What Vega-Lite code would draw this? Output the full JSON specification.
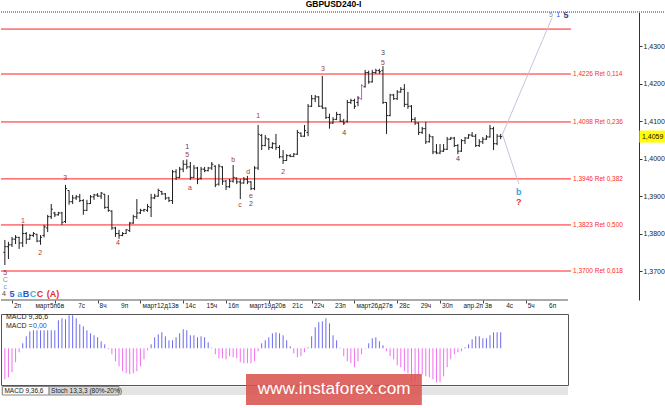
{
"$schema": "https://vega.github.io/schema/vega-lite/v6.json",
"padding": 0,
"background": "#ffffff",
"title": {"text": "GBPUSD240-I", "font": "Liberation Sans", "fontSize": 8.5, "fontWeight": "bold", "color": "#000000", "anchor": "middle", "offset": 4, "dy": 2},
"bounds": "flush",
"spacing": 14,
"config": {"view": {"stroke": null}, "text": {"font": "Liberation Sans"}},
"datasets": {
"bars": [
{"i":0,"o":1.3750,"h":1.3783,"l":1.3716,"c":1.3765},
{"i":1,"o":1.3765,"h":1.3778,"l":1.3732,"c":1.3770},
{"i":2,"o":1.3770,"h":1.3791,"l":1.3764,"c":1.3785},
{"i":3,"o":1.3785,"h":1.3796,"l":1.3772,"c":1.3790},
{"i":4,"o":1.3790,"h":1.3791,"l":1.3759,"c":1.3775},
{"i":5,"o":1.3775,"h":1.3825,"l":1.3764,"c":1.3800},
{"i":6,"o":1.3800,"h":1.3804,"l":1.3772,"c":1.3785},
{"i":7,"o":1.3785,"h":1.3799,"l":1.3783,"c":1.3795},
{"i":8,"o":1.3795,"h":1.3804,"l":1.3791,"c":1.3800},
{"i":9,"o":1.3798,"h":1.3799,"l":1.3777,"c":1.3780},
{"i":10,"o":1.3780,"h":1.3796,"l":1.3770,"c":1.3790},
{"i":11,"o":1.3795,"h":1.3823,"l":1.3790,"c":1.3818},
{"i":12,"o":1.3815,"h":1.3850,"l":1.3804,"c":1.3845},
{"i":13,"o":1.3845,"h":1.3879,"l":1.3839,"c":1.3865},
{"i":14,"o":1.3855,"h":1.3858,"l":1.3844,"c":1.3850},
{"i":15,"o":1.3850,"h":1.3858,"l":1.3848,"c":1.3855},
{"i":16,"o":1.3855,"h":1.3858,"l":1.3823,"c":1.3830},
{"i":17,"o":1.3832,"h":1.3930,"l":1.3828,"c":1.3920},
{"i":18,"o":1.3915,"h":1.3915,"l":1.3877,"c":1.3885},
{"i":19,"o":1.3885,"h":1.3903,"l":1.3879,"c":1.3895},
{"i":20,"o":1.3895,"h":1.3903,"l":1.3890,"c":1.3898},
{"i":21,"o":1.3898,"h":1.3906,"l":1.3884,"c":1.3888},
{"i":22,"o":1.3888,"h":1.3892,"l":1.3850,"c":1.3862},
{"i":23,"o":1.3862,"h":1.3890,"l":1.3860,"c":1.3880},
{"i":24,"o":1.3880,"h":1.3903,"l":1.3879,"c":1.3898},
{"i":25,"o":1.3898,"h":1.3906,"l":1.3890,"c":1.3903},
{"i":26,"o":1.3903,"h":1.3908,"l":1.3898,"c":1.3900},
{"i":27,"o":1.3900,"h":1.3911,"l":1.3892,"c":1.3908},
{"i":28,"o":1.3905,"h":1.3906,"l":1.3866,"c":1.3870},
{"i":29,"o":1.3870,"h":1.3903,"l":1.3858,"c":1.3862},
{"i":30,"o":1.3860,"h":1.3862,"l":1.3810,"c":1.3815},
{"i":31,"o":1.3815,"h":1.3818,"l":1.3791,"c":1.3800},
{"i":32,"o":1.3800,"h":1.3810,"l":1.3786,"c":1.3795},
{"i":33,"o":1.3795,"h":1.3804,"l":1.3793,"c":1.3800},
{"i":34,"o":1.3800,"h":1.3812,"l":1.3799,"c":1.3810},
{"i":35,"o":1.3808,"h":1.3831,"l":1.3804,"c":1.3828},
{"i":36,"o":1.3828,"h":1.3850,"l":1.3826,"c":1.3845},
{"i":37,"o":1.3845,"h":1.3892,"l":1.3839,"c":1.3855},
{"i":38,"o":1.3855,"h":1.3866,"l":1.3852,"c":1.3862},
{"i":39,"o":1.3862,"h":1.3866,"l":1.3858,"c":1.3864},
{"i":40,"o":1.3862,"h":1.3879,"l":1.3858,"c":1.3872},
{"i":41,"o":1.3870,"h":1.3906,"l":1.3844,"c":1.3895},
{"i":42,"o":1.3895,"h":1.3906,"l":1.3892,"c":1.3900},
{"i":43,"o":1.3900,"h":1.3920,"l":1.3898,"c":1.3915},
{"i":44,"o":1.3912,"h":1.3914,"l":1.3903,"c":1.3906},
{"i":45,"o":1.3906,"h":1.3908,"l":1.3890,"c":1.3895},
{"i":46,"o":1.3895,"h":1.3898,"l":1.3884,"c":1.3888},
{"i":47,"o":1.3888,"h":1.3970,"l":1.3879,"c":1.3965},
{"i":48,"o":1.3965,"h":1.3972,"l":1.3943,"c":1.3950},
{"i":49,"o":1.3950,"h":1.3978,"l":1.3948,"c":1.3972},
{"i":50,"o":1.3972,"h":1.3996,"l":1.3964,"c":1.3985},
{"i":51,"o":1.3985,"h":1.3998,"l":1.3972,"c":1.3978},
{"i":52,"o":1.3978,"h":1.3991,"l":1.3943,"c":1.3950},
{"i":53,"o":1.3950,"h":1.3983,"l":1.3948,"c":1.3975},
{"i":54,"o":1.3975,"h":1.3978,"l":1.3932,"c":1.3945},
{"i":55,"o":1.3948,"h":1.3978,"l":1.3944,"c":1.3972},
{"i":56,"o":1.3972,"h":1.3978,"l":1.3964,"c":1.3968},
{"i":57,"o":1.3968,"h":1.3978,"l":1.3966,"c":1.3975},
{"i":58,"o":1.3975,"h":1.3991,"l":1.3970,"c":1.3985},
{"i":59,"o":1.3980,"h":1.3982,"l":1.3924,"c":1.3930},
{"i":60,"o":1.3932,"h":1.3986,"l":1.3928,"c":1.3980},
{"i":61,"o":1.3978,"h":1.3980,"l":1.3930,"c":1.3940},
{"i":62,"o":1.3940,"h":1.3943,"l":1.3916,"c":1.3925},
{"i":63,"o":1.3925,"h":1.3946,"l":1.3922,"c":1.3940},
{"i":64,"o":1.3940,"h":1.3983,"l":1.3936,"c":1.3950},
{"i":65,"o":1.3948,"h":1.3950,"l":1.3932,"c":1.3938},
{"i":66,"o":1.3938,"h":1.3946,"l":1.3892,"c":1.3935},
{"i":67,"o":1.3935,"h":1.3951,"l":1.3933,"c":1.3945},
{"i":68,"o":1.3945,"h":1.3954,"l":1.3932,"c":1.3938},
{"i":69,"o":1.3938,"h":1.3940,"l":1.3916,"c":1.3920},
{"i":70,"o":1.3920,"h":1.3980,"l":1.3916,"c":1.3975},
{"i":71,"o":1.3975,"h":1.4090,"l":1.3970,"c":1.4065},
{"i":72,"o":1.4062,"h":1.4066,"l":1.4023,"c":1.4035},
{"i":73,"o":1.4035,"h":1.4063,"l":1.4033,"c":1.4055},
{"i":74,"o":1.4052,"h":1.4055,"l":1.4023,"c":1.4030},
{"i":75,"o":1.4030,"h":1.4044,"l":1.4026,"c":1.4040},
{"i":76,"o":1.4040,"h":1.4066,"l":1.4023,"c":1.4030},
{"i":77,"o":1.4030,"h":1.4036,"l":1.4001,"c":1.4005},
{"i":78,"o":1.4005,"h":1.4023,"l":1.3986,"c":1.3995},
{"i":79,"o":1.3995,"h":1.4012,"l":1.3994,"c":1.4008},
{"i":80,"o":1.4008,"h":1.4012,"l":1.4004,"c":1.4006},
{"i":81,"o":1.4006,"h":1.4015,"l":1.4004,"c":1.4012},
{"i":82,"o":1.4012,"h":1.4077,"l":1.4010,"c":1.4070},
{"i":83,"o":1.4068,"h":1.4070,"l":1.4058,"c":1.4060},
{"i":84,"o":1.4060,"h":1.4090,"l":1.4058,"c":1.4075},
{"i":85,"o":1.4070,"h":1.4146,"l":1.4060,"c":1.4140},
{"i":86,"o":1.4140,"h":1.4170,"l":1.4138,"c":1.4160},
{"i":87,"o":1.4160,"h":1.4170,"l":1.4151,"c":1.4165},
{"i":88,"o":1.4165,"h":1.4167,"l":1.4138,"c":1.4140},
{"i":89,"o":1.4140,"h":1.4221,"l":1.4133,"c":1.4135},
{"i":90,"o":1.4135,"h":1.4137,"l":1.4106,"c":1.4110},
{"i":91,"o":1.4110,"h":1.4120,"l":1.4080,"c":1.4095},
{"i":92,"o":1.4095,"h":1.4111,"l":1.4093,"c":1.4105},
{"i":93,"o":1.4105,"h":1.4125,"l":1.4103,"c":1.4118},
{"i":94,"o":1.4118,"h":1.4120,"l":1.4098,"c":1.4100},
{"i":95,"o":1.4100,"h":1.4106,"l":1.4090,"c":1.4095},
{"i":96,"o":1.4100,"h":1.4157,"l":1.4096,"c":1.4150},
{"i":97,"o":1.4150,"h":1.4160,"l":1.4146,"c":1.4155},
{"i":98,"o":1.4155,"h":1.4160,"l":1.4133,"c":1.4140},
{"i":99,"o":1.4150,"h":1.4167,"l":1.4140,"c":1.4162},
{"i":100,"o":1.4160,"h":1.4199,"l":1.4157,"c":1.4195,"hl":1},
{"i":101,"o":1.4192,"h":1.4237,"l":1.4190,"c":1.4230},
{"i":102,"o":1.4230,"h":1.4235,"l":1.4200,"c":1.4205},
{"i":103,"o":1.4205,"h":1.4237,"l":1.4203,"c":1.4230},
{"i":104,"o":1.4230,"h":1.4240,"l":1.4226,"c":1.4235},
{"i":105,"o":1.4235,"h":1.4240,"l":1.4226,"c":1.4232},
{"i":106,"o":1.4235,"h":1.4247,"l":1.4146,"c":1.4150},
{"i":107,"o":1.4150,"h":1.4151,"l":1.4066,"c":1.4115},
{"i":108,"o":1.4115,"h":1.4173,"l":1.4113,"c":1.4170},
{"i":109,"o":1.4170,"h":1.4173,"l":1.4157,"c":1.4160},
{"i":110,"o":1.4160,"h":1.4183,"l":1.4157,"c":1.4178},
{"i":111,"o":1.4178,"h":1.4191,"l":1.4176,"c":1.4185},
{"i":112,"o":1.4185,"h":1.4199,"l":1.4138,"c":1.4145},
{"i":113,"o":1.4145,"h":1.4178,"l":1.4133,"c":1.4140},
{"i":114,"o":1.4140,"h":1.4143,"l":1.4098,"c":1.4105},
{"i":115,"o":1.4105,"h":1.4111,"l":1.4090,"c":1.4095},
{"i":116,"o":1.4095,"h":1.4097,"l":1.4063,"c":1.4070},
{"i":117,"o":1.4070,"h":1.4085,"l":1.4066,"c":1.4080},
{"i":118,"o":1.4080,"h":1.4098,"l":1.4039,"c":1.4045},
{"i":119,"o":1.4045,"h":1.4066,"l":1.4043,"c":1.4060},
{"i":120,"o":1.4058,"h":1.4060,"l":1.4012,"c":1.4018},
{"i":121,"o":1.4018,"h":1.4039,"l":1.4012,"c":1.4015},
{"i":122,"o":1.4015,"h":1.4039,"l":1.4012,"c":1.4020},
{"i":123,"o":1.4020,"h":1.4039,"l":1.4018,"c":1.4025},
{"i":124,"o":1.4025,"h":1.4058,"l":1.4023,"c":1.4052},
{"i":125,"o":1.4052,"h":1.4058,"l":1.4050,"c":1.4055},
{"i":126,"o":1.4055,"h":1.4058,"l":1.4031,"c":1.4035},
{"i":127,"o":1.4035,"h":1.4039,"l":1.4012,"c":1.4020},
{"i":128,"o":1.4020,"h":1.4052,"l":1.4018,"c":1.4048},
{"i":129,"o":1.4048,"h":1.4058,"l":1.4039,"c":1.4055},
{"i":130,"o":1.4055,"h":1.4066,"l":1.4053,"c":1.4063},
{"i":131,"o":1.4063,"h":1.4071,"l":1.4058,"c":1.4060},
{"i":132,"o":1.4060,"h":1.4066,"l":1.4031,"c":1.4035},
{"i":133,"o":1.4035,"h":1.4052,"l":1.4031,"c":1.4045},
{"i":134,"o":1.4045,"h":1.4058,"l":1.4039,"c":1.4052},
{"i":135,"o":1.4052,"h":1.4063,"l":1.4050,"c":1.4058},
{"i":136,"o":1.4058,"h":1.4090,"l":1.4056,"c":1.4080},
{"i":137,"o":1.4080,"h":1.4085,"l":1.4023,"c":1.4040},
{"i":138,"o":1.4040,"h":1.4066,"l":1.4036,"c":1.4060},
{"i":139,"o":1.4060,"h":1.4066,"l":1.4052,"c":1.4059}
],
"macd": [
{"i":0,"m":-0.0031},{"i":1,"m":-0.0029},{"i":2,"m":-0.0024},{"i":3,"m":-0.0014},{"i":4,"m":-0.0004},
{"i":5,"m":0.0005},{"i":6,"m":0.0012},{"i":7,"m":0.0017},{"i":8,"m":0.0018},{"i":9,"m":0.0018},
{"i":10,"m":0.0018},{"i":11,"m":0.0018},{"i":12,"m":0.0018},{"i":13,"m":0.0018},{"i":14,"m":0.0018},
{"i":15,"m":0.0028},{"i":16,"m":0.0030},{"i":17,"m":0.0029},{"i":18,"m":0.0033},{"i":19,"m":0.0033},
{"i":20,"m":0.0030},{"i":21,"m":0.0024},{"i":22,"m":0.0022},{"i":23,"m":0.0018},{"i":24,"m":0.0015},
{"i":25,"m":0.0013},{"i":26,"m":0.0011},{"i":27,"m":0.0007},{"i":28,"m":0.0004},{"i":29,"m":-0.0001},
{"i":30,"m":-0.0006},{"i":31,"m":-0.0013},{"i":32,"m":-0.0018},{"i":33,"m":-0.0023},{"i":34,"m":-0.0025},
{"i":35,"m":-0.0026},{"i":36,"m":-0.0025},{"i":37,"m":-0.0023},{"i":38,"m":-0.0018},{"i":39,"m":-0.0011},
{"i":40,"m":-0.0002},{"i":41,"m":0.0004},{"i":42,"m":0.0011},{"i":43,"m":0.0014},{"i":44,"m":0.0016},
{"i":45,"m":0.0012},{"i":46,"m":0.0008},{"i":47,"m":0.0008},{"i":48,"m":0.0011},{"i":49,"m":0.0015},
{"i":50,"m":0.0019},{"i":51,"m":0.0018},{"i":52,"m":0.0013},{"i":53,"m":0.0013},{"i":54,"m":0.0011},
{"i":55,"m":0.0012},{"i":56,"m":0.0011},{"i":57,"m":0.0006},{"i":58,"m":0.00005},{"i":59,"m":-0.0006},
{"i":60,"m":-0.0010},{"i":61,"m":-0.0010},{"i":62,"m":-0.0011},{"i":63,"m":-0.0008},{"i":64,"m":-0.0009},
{"i":65,"m":-0.0010},{"i":66,"m":-0.0014},{"i":67,"m":-0.0015},{"i":68,"m":-0.0015},{"i":69,"m":-0.0015},
{"i":70,"m":-0.0013},{"i":71,"m":-0.0003},{"i":72,"m":0.0005},{"i":73,"m":0.0008},{"i":74,"m":0.0011},
{"i":75,"m":0.0015},{"i":76,"m":0.0016},{"i":77,"m":0.0015},{"i":78,"m":0.0013},{"i":79,"m":0.0008},
{"i":80,"m":0.0002},{"i":81,"m":-0.0005},{"i":82,"m":-0.0009},{"i":83,"m":-0.0008},{"i":84,"m":-0.0004},
{"i":85,"m":0.0001},{"i":86,"m":0.0012},{"i":87,"m":0.0021},{"i":88,"m":0.0026},{"i":89,"m":0.0027},
{"i":90,"m":0.0030},{"i":91,"m":0.0025},{"i":92,"m":0.0013},{"i":93,"m":0.0008},{"i":94,"m":0.00005},
{"i":95,"m":-0.0008},{"i":96,"m":-0.0013},{"i":97,"m":-0.0015},{"i":98,"m":-0.0019},{"i":99,"m":-0.0013},
{"i":100,"m":-0.0006},{"i":101,"m":-0.00005},{"i":102,"m":0.0005},{"i":103,"m":0.0010},{"i":104,"m":0.0011},
{"i":105,"m":0.0007},{"i":106,"m":0.0003},{"i":107,"m":-0.0003},{"i":108,"m":-0.0008},{"i":109,"m":-0.0011},
{"i":110,"m":-0.0017},{"i":111,"m":-0.0019},{"i":112,"m":-0.0023},{"i":113,"m":-0.0025},{"i":114,"m":-0.0034},
{"i":115,"m":-0.0034},{"i":116,"m":-0.0029},{"i":117,"m":-0.0026},{"i":118,"m":-0.0028},{"i":119,"m":-0.0029},
{"i":120,"m":-0.0031},{"i":121,"m":-0.0034},{"i":122,"m":-0.0034},{"i":123,"m":-0.0028},{"i":124,"m":-0.0019},
{"i":125,"m":-0.0011},{"i":126,"m":-0.0006},{"i":127,"m":-0.0004},{"i":128,"m":-0.0003},{"i":129,"m":0.0001},
{"i":130,"m":0.0004},{"i":131,"m":0.0009},{"i":132,"m":0.0012},{"i":133,"m":0.0012},{"i":134,"m":0.0010},
{"i":135,"m":0.0010},{"i":136,"m":0.0013},{"i":137,"m":0.0016},{"i":138,"m":0.0016},{"i":139,"m":0.0016}
],
"fib": [
{"lvl":1.4346,"txt":""},
{"lvl":1.4226,"txt":"1,4226 Ret 0,114"},
{"lvl":1.4098,"txt":"1,4098 Ret 0,236"},
{"lvl":1.3946,"txt":"1,3946 Ret 0,382"},
{"lvl":1.3823,"txt":"1,3823 Ret 0,500"},
{"lvl":1.3700,"txt":"1,3700 Ret 0,618"}
],
"xlab": [
{"i":2,"t":"2п"},{"i":8,"t":"март5п6в"},{"i":20,"t":"7с"},{"i":26,"t":"8ч"},{"i":32,"t":"9п"},
{"i":38,"t":"март12д13в"},{"i":50,"t":"14с"},{"i":56,"t":"15ч"},{"i":62,"t":"16п"},
{"i":68,"t":"март19д20в"},{"i":80,"t":"21с"},{"i":86,"t":"22ч"},{"i":92,"t":"23п"},
{"i":98,"t":"март26д27в"},{"i":110,"t":"28с"},{"i":116,"t":"29ч"},{"i":122,"t":"30п"},
{"i":128,"t":"апр.2п"},{"i":134,"t":"3в"},{"i":140,"t":"4с"},{"i":146,"t":"5ч"},{"i":152,"t":"6п"}
],
"waves": [
{"i":0.1,"p":1.3695,"t":"5","d":"br"},
{"i":0.1,"p":1.3676,"t":"C","d":"gy"},
{"i":0.1,"p":1.3657,"t":"c","d":"lv"},
{"i":-0.25,"p":1.3639,"t":"4","d":"dk"},
{"i":5.1,"p":1.3834,"t":"1","d":"br"},
{"i":9.9,"p":1.3748,"t":"2","d":"br"},
{"i":16.9,"p":1.3948,"t":"3","d":"br"},
{"i":31.7,"p":1.3775,"t":"4","d":"br"},
{"i":51.1,"p":1.4031,"t":"1","d":"nv"},
{"i":51.1,"p":1.4010,"t":"5","d":"br"},
{"i":51.9,"p":1.3922,"t":"a","d":"br"},
{"i":64,"p":1.3996,"t":"b","d":"br"},
{"i":65.9,"p":1.3876,"t":"c","d":"br"},
{"i":68.2,"p":1.3964,"t":"d","d":"br"},
{"i":69,"p":1.3900,"t":"e","d":"br"},
{"i":69,"p":1.3879,"t":"2","d":"dk"},
{"i":71,"p":1.4114,"t":"1","d":"br"},
{"i":78,"p":1.3964,"t":"2","d":"br"},
{"i":89.2,"p":1.4239,"t":"3","d":"br"},
{"i":95.1,"p":1.4068,"t":"4","d":"dk"},
{"i":106,"p":1.4282,"t":"3","d":"dk"},
{"i":106,"p":1.4255,"t":"5","d":"br"},
{"i":127,"p":1.3999,"t":"4","d":"nv"},
{"i":153.1,"p":1.4384,"t":"5","d":"gy"},
{"i":155.1,"p":1.4384,"t":"1","d":"bl"}
],
"waves2": [
{"i":2.0,"p":1.3639,"t":"5","d":"bl"},
{"i":4.2,"p":1.3639,"t":"a","d":"lb"},
{"i":5.9,"p":1.3639,"t":"B","d":"bl"},
{"i":7.9,"p":1.3639,"t":"C","d":"cy"},
{"i":9.85,"p":1.3639,"t":"C","d":"rd"},
{"i":13.5,"p":1.3639,"t":"(A)","d":"rd"},
{"i":144.1,"p":1.3911,"t":"b","d":"lb"},
{"i":144.1,"p":1.3884,"t":"?","d":"rd"},
{"i":157.3,"p":1.4384,"t":"5","d":"nv"}
],
"proj": [
{"s":"u","i":139.5,"p":1.4065},
{"s":"u","i":153.4,"p":1.4376},
{"s":"d","i":139.5,"p":1.4065},
{"s":"d","i":144.1,"p":1.3932}
]
},
"vconcat": [
{
"width": 638,
"height": 288,
"layer": [
{
"data": {"name": "fib"},
"mark": {"type": "rule", "color": "#ff1f1f", "strokeWidth": 1},
"encoding": {
"x": {"datum": -1.085, "type": "quantitative", "title": null},
"x2": {"datum": 158.7},
"y": {"field": "lvl", "type": "quantitative", "title": null}
}
},
{
"data": {"name": "fib"},
"mark": {"type": "text", "color": "#ff2a2a", "fontSize": 6.5, "align": "left", "baseline": "middle"},
"encoding": {
"x": {"datum": 159.3, "type": "quantitative", "title": null},
"y": {"field": "lvl", "type": "quantitative", "title": null},
"text": {"field": "txt"}
}
},
{
"data": {"name": "bars"},
"mark": {"type": "rule", "strokeWidth": 1},
"encoding": {
"x": {"field": "i", "type": "quantitative",
"scale": {"domain": [-1.085, 177.78], "nice": false, "zero": false},
"axis": {"values": [2,8,14,20,26,32,38,44,50,56,62,68,74,80,86,92,98,104,110,116,122,128,134,140,146,152],
"labels": false, "title": null, "domain": false, "grid": false, "tickSize": 3, "tickColor": "#444"}},
"y": {"field": "l", "type": "quantitative",
"scale": {"domain": [1.36226, 1.43916], "nice": false, "zero": false},
"axis": {"orient": "right", "values": [1.37,1.38,1.39,1.40,1.41,1.42,1.43],
"labelExpr": "replace(format(datum.value, '.4f'), '.', ',')",
"title": null, "grid": false, "domain": true, "domainColor": "#333", "tickSize": 3, "tickColor": "#333",
"labelFont": "Liberation Sans", "labelFontSize": 7, "labelColor": "#222", "labelPadding": 1}},
"y2": {"field": "h"},
"color": {"condition": {"test": "datum.hl === 1", "value": "#ff33ff"}, "value": "#1e1e1e"}
}
},
{
"data": {"name": "bars"},
"mark": {"type": "rule", "strokeWidth": 1, "xOffset": -1.6, "x2Offset": 0},
"encoding": {
"x": {"field": "i", "type": "quantitative", "title": null},
"x2": {"field": "i"},
"y": {"field": "o", "type": "quantitative", "title": null},
"color": {"condition": {"test": "datum.hl === 1", "value": "#ff33ff"}, "value": "#1e1e1e"}
}
},
{
"data": {"name": "bars"},
"mark": {"type": "rule", "strokeWidth": 1, "xOffset": 0, "x2Offset": 1.6},
"encoding": {
"x": {"field": "i", "type": "quantitative", "title": null},
"x2": {"field": "i"},
"y": {"field": "c", "type": "quantitative", "title": null},
"color": {"condition": {"test": "datum.hl === 1", "value": "#ff33ff"}, "value": "#1e1e1e"}
}
},
{
"data": {"name": "proj"},
"mark": {"type": "line", "color": "#c8c2da", "strokeWidth": 1},
"encoding": {
"x": {"field": "i", "type": "quantitative", "title": null},
"y": {"field": "p", "type": "quantitative", "title": null},
"detail": {"field": "s"}
}
},
{
"data": {"name": "waves"},
"mark": {"type": "text", "fontSize": 7, "align": "center", "baseline": "middle"},
"encoding": {
"x": {"field": "i", "type": "quantitative", "title": null},
"y": {"field": "p", "type": "quantitative", "title": null},
"text": {"field": "t"},
"color": {"field": "d", "type": "nominal", "legend": null,
"scale": {"domain": ["br","dk","nv","bl","lb","cy","rd","gy","lv"], "range": ["#a33b3b","#4a4a4a","#3a3a70","#3050e0","#3aa4dc","#30b8d8","#e03030","#909090","#8a8ae8"]}}
}
},
{
"data": {"name": "waves2"},
"mark": {"type": "text", "fontSize": 9, "fontWeight": "bold", "align": "center", "baseline": "middle"},
"encoding": {
"x": {"field": "i", "type": "quantitative", "title": null},
"y": {"field": "p", "type": "quantitative", "title": null},
"text": {"field": "t"},
"color": {"field": "d", "type": "nominal", "legend": null}
}
},
{
"data": {"name": "xlab"},
"mark": {"type": "text", "fontSize": 6.5, "align": "left", "baseline": "top", "dx": 2, "color": "#222222"},
"encoding": {
"x": {"field": "i", "type": "quantitative", "title": null},
"y": {"datum": 1.36135, "type": "quantitative", "title": null},
"text": {"field": "t"}
}
},
{
"data": {"values": [{}]},
"mark": {"type": "rule", "color": "#9a9a9a", "strokeWidth": 2, "strokeDash": [1, 1]},
"encoding": {
"x": {"datum": -1.085, "type": "quantitative", "title": null},
"x2": {"datum": 185.35},
"y": {"datum": 1.43916, "type": "quantitative", "title": null}
}
},
{
"data": {"values": [{}]},
"mark": {"type": "rule", "color": "#555555", "strokeWidth": 1},
"encoding": {
"x": {"datum": -1.085, "type": "quantitative", "title": null},
"x2": {"datum": 157.87},
"y": {"datum": 1.36226, "type": "quantitative", "title": null}
}
},
{
"data": {"values": [{}]},
"mark": {"type": "rect", "color": "#ffff00"},
"encoding": {
"x": {"datum": 177.9, "type": "quantitative", "title": null},
"x2": {"datum": 185.35},
"y": {"datum": 1.4075, "type": "quantitative", "title": null},
"y2": {"datum": 1.4043}
}
},
{
"data": {"values": [{"txt": "1,4059"}]},
"mark": {"type": "text", "fontSize": 7, "align": "left", "baseline": "middle", "color": "#111111"},
"encoding": {
"x": {"datum": 178.6, "type": "quantitative", "title": null},
"y": {"datum": 1.4059, "type": "quantitative", "title": null},
"text": {"field": "txt"}
}
}
]
},
{
"width": 567,
"height": 71,
"view": {"stroke": "#555555", "strokeWidth": 1},
"layer": [
{
"data": {"name": "macd"},
"mark": {"type": "rule", "strokeWidth": 1},
"encoding": {
"x": {"field": "i", "type": "quantitative", "scale": {"domain": [-1.085, 157.87], "nice": false, "zero": false}, "axis": null},
"y": {"field": "m", "type": "quantitative", "scale": {"domain": [-0.00367, 0.00343], "nice": false, "zero": false}, "axis": null},
"y2": {"datum": 0},
"color": {"condition": {"test": "datum.m >= 0", "value": "#6a6aee"}, "value": "#f070f0"}
}
},
{
"data": {"values": [{"txt": "MACD 9,36,6"}]},
"mark": {"type": "text", "fontSize": 7, "align": "left", "baseline": "middle", "color": "#222222"},
"encoding": {
"x": {"datum": 0.32, "type": "quantitative"},
"y": {"datum": 0.00313, "type": "quantitative"},
"text": {"field": "txt"}
}
},
{
"data": {"values": [{"txt": "MACD ="}]},
"mark": {"type": "text", "fontSize": 7, "align": "left", "baseline": "middle", "color": "#222222"},
"encoding": {
"x": {"datum": 0.32, "type": "quantitative"},
"y": {"datum": 0.00223, "type": "quantitative"},
"text": {"field": "txt"}
}
},
{
"data": {"values": [{"txt": "0,00"}]},
"mark": {"type": "text", "fontSize": 7, "align": "left", "baseline": "middle", "color": "#3a3af0"},
"encoding": {
"x": {"datum": 7.9, "type": "quantitative"},
"y": {"datum": 0.00223, "type": "quantitative"},
"text": {"field": "txt"}
}
},
{
"data": {"values": [{}]},
"mark": {"type": "rect", "color": "#e4e4e4"},
"encoding": {
"x": {"datum": -1.085, "type": "quantitative"},
"x2": {"datum": 157.87},
"y": {"datum": -0.00382, "type": "quantitative"},
"y2": {"datum": -0.00467}
}
},
{
"data": {"values": [{"t": "MACD 9,36,6", "a": -0.68, "b": 12.4, "f": "w"}, {"t": "Stoch 13,3,3 (80%-20%)", "a": 12.4, "b": 32.0, "f": "g"}]},
"mark": {"type": "rect", "stroke": "#888888", "strokeWidth": 1},
"encoding": {
"x": {"field": "a", "type": "quantitative"},
"x2": {"field": "b"},
"y": {"datum": -0.00382, "type": "quantitative"},
"y2": {"datum": -0.00467},
"fill": {"field": "f", "type": "nominal", "legend": null, "scale": {"domain": ["w", "g"], "range": ["#fafafa", "#d6d6d6"]}}
}
},
{
"data": {"values": [{"t": "MACD 9,36,6", "a": -0.68, "b": 12.4, "f": "w"}, {"t": "Stoch 13,3,3 (80%-20%)", "a": 12.4, "b": 32.0, "f": "g"}]},
"mark": {"type": "text", "fontSize": 6.5, "align": "left", "baseline": "middle", "color": "#222222", "dx": 2},
"encoding": {
"x": {"field": "a", "type": "quantitative"},
"y": {"datum": -0.00425, "type": "quantitative"},
"text": {"field": "t"}
}
},
{
"data": {"values": [{}]},
"mark": {"type": "rect", "color": "#d9534f", "opacity": 0.88},
"encoding": {
"x": {"datum": 67.6, "type": "quantitative"},
"x2": {"datum": 116.9},
"y": {"datum": -0.00257, "type": "quantitative"},
"y2": {"datum": -0.00567}
}
},
{
"data": {"values": [{"txt": "www.instaforex.com"}]},
"mark": {"type": "text", "fontSize": 17.2, "align": "center", "baseline": "alphabetic", "color": "#ffffff"},
"encoding": {
"x": {"datum": 92.3, "type": "quantitative"},
"y": {"datum": -0.00457, "type": "quantitative"},
"text": {"field": "txt"}
}
}
]
}
]
}
